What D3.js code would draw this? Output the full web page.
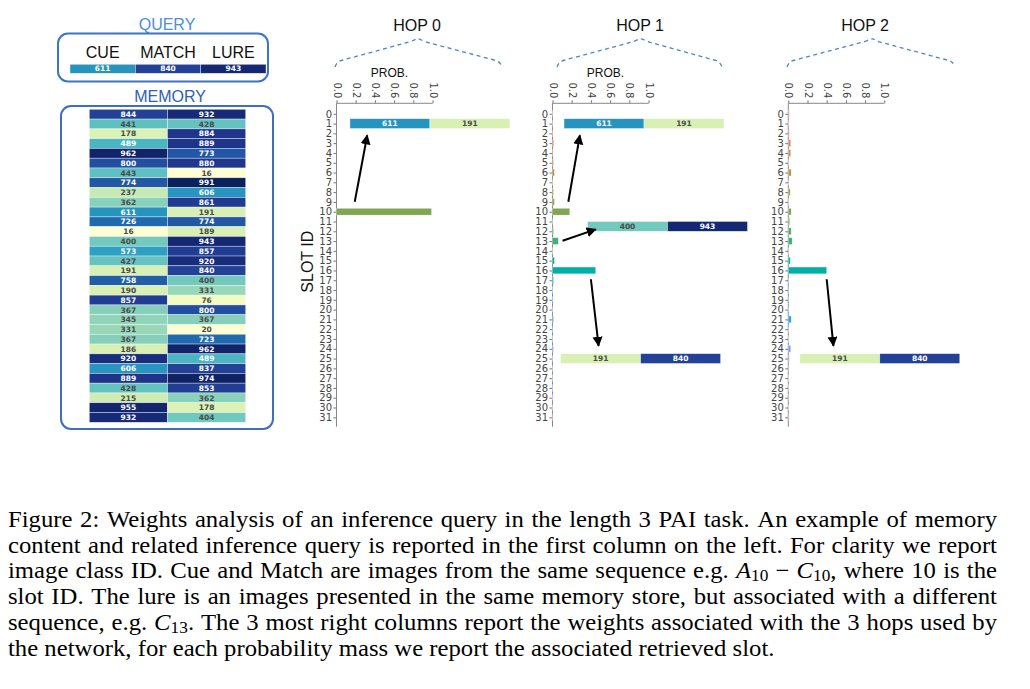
<!DOCTYPE html>
<html><head><meta charset="utf-8">
<script src="https://cdn.jsdelivr.net/npm/d3@7"></script>
<style>body{margin:0;background:#fff}svg{display:block}</style>
</head><body>
<svg id="c" width="1030" height="689"></svg>
<script>
// ---------- data ----------
const slots = d3.range(32);
const memCue   = [844,441,178,489,962,800,443,774,237,362,611,726,16,400,573,427,191,758,190,857,367,345,331,367,186,920,606,889,428,215,955,932];
const memMatch = [932,428,884,889,773,880,16,991,606,861,191,774,189,943,857,920,840,400,331,76,800,367,20,723,962,489,837,974,853,362,178,404];
const queryLabels = ["CUE","MATCH","LURE"];
const queryValues = [611,840,943];
const hopNames = ["HOP 0","HOP 1","HOP 2"];
const hop0 = [0,0,0,0,0,0,0,0,0,0,0.99,0,0,0,0,0,0,0,0,0,0,0,0,0,0,0,0,0,0,0,0,0];
const hop1 = [0.003,0.004,0.005,0.012,0.006,0.01,0.02,0.003,0.01,0.02,0.18,0.003,0.01,0.06,0.003,0.02,0.45,0.01,0.003,0.003,0.003,0.01,0.005,0.003,0.01,0.003,0.003,0.003,0.003,0.003,0.003,0.006];
const hop2 = [0.01,0.005,0.01,0.025,0.025,0.005,0.03,0.005,0.02,0.005,0.03,0.015,0.03,0.04,0.005,0.02,0.40,0.005,0.005,0.006,0.005,0.03,0.005,0.005,0.025,0.01,0.008,0.006,0.005,0.008,0.005,0.008];
const probTicks = [0,0.2,0.4,0.6,0.8,1.0];
// retrieved memory rows shown next to the weights (slot position, start in prob units, values)
const retrievedHop  = [0,1,1,1,2];
const retrievedSlot = [1,1,11.5,25,25];
const retrievedStart= [0.14,0.12,0.365,0.085,0.12];
const retrievedVals = [[611,191],[611,191],[400,943],[191,840],[191,840]];
// arrows in (prob, slot) coordinates
const arrowHop  = [0,1,1,1,2];
const arrowFrom = [[0.19,8.98],[0.165,8.98],[0.105,12.96],[0.40,16.9],[0.40,16.9]];
const arrowTo   = [[0.32,2.2],[0.285,2.2],[0.45,11.8],[0.48,23.7],[0.47,23.7]];
const captionLines = [
 "Figure 2: Weights analysis of an inference query in the length 3 PAI task. An example of memory",
 "content and related inference query is reported in the first column on the left. For clarity we report",
 "image class ID. Cue and Match are images from the same sequence e.g. A_10 − C_10, where 10 is the",
 "slot ID. The lure is an images presented in the same memory store, but associated with a different",
 "sequence, e.g. C_13. The 3 most right columns report the weights associated with the 3 hops used by",
 "the network, for each probability mass we report the associated retrieved slot."
];

// ---------- layout ----------
const svg = d3.select("#c");
const SANS = "'Liberation Sans', Arial, sans-serif";
const DV = "'DejaVu Sans', sans-serif";
const valColor = v => d3.interpolateYlGnBu(v/1000);
const valText = v => v > 460 ? "#ffffff" : "#4a4a4a";
const slotColor = i => d3.hcl(10 + i*11.25, 46, 64).formatHex();

// ---------- query box ----------
svg.append("text").attr("x",167).attr("y",30).attr("text-anchor","middle")
  .attr("font-family",SANS).attr("font-size",16).attr("fill","#4b8fd6").text("QUERY");
svg.append("rect").attr("x",58).attr("y",33.5).attr("width",210).attr("height",48).attr("rx",10)
  .attr("fill","none").attr("stroke","#3d74c6").attr("stroke-width",2);
const qx = d3.scaleBand().domain(queryLabels).range([70,266]);
svg.selectAll("text.ql").data(queryLabels).join("text").attr("class","ql")
  .attr("x",d=>qx(d)+qx.bandwidth()/2).attr("y",58.3).attr("text-anchor","middle")
  .attr("font-family",SANS).attr("font-size",16).attr("fill","#111").text(d=>d);
svg.selectAll("rect.qc").data(queryValues).join("rect").attr("class","qc")
  .attr("x",(d,i)=>qx(queryLabels[i])).attr("y",64.3).attr("width",qx.bandwidth()).attr("height",9)
  .attr("fill",valColor).attr("stroke","#ffffff").attr("stroke-opacity",0.6).attr("stroke-width",0.6);
svg.selectAll("text.qv").data(queryValues).join("text").attr("class","qv")
  .attr("x",(d,i)=>qx(queryLabels[i])+qx.bandwidth()/2).attr("y",68.8).attr("dy","0.35em")
  .attr("text-anchor","middle").attr("font-family",DV).attr("font-weight","bold").attr("font-size",7.5)
  .attr("fill",valText).text(d=>d);

// ---------- memory box ----------
svg.append("text").attr("x",170).attr("y",101.7).attr("text-anchor","middle")
  .attr("font-family",SANS).attr("font-size",16).attr("fill","#2f60b4").text("MEMORY");
svg.append("rect").attr("x",61).attr("y",106).attr("width",212).attr("height",323).attr("rx",10)
  .attr("fill","none").attr("stroke","#3d6fc0").attr("stroke-width",2);
const my = d3.scaleBand().domain(slots).range([109.3,422.3]);
const mx = d3.scaleBand().domain([0,1]).range([89.3,245.7]);
const memCols = [memCue, memMatch];
memCols.forEach((col,ci)=>{
  svg.selectAll("rect.m"+ci).data(col).join("rect").attr("class","m"+ci)
    .attr("x",mx(ci)).attr("y",(d,i)=>my(i)).attr("width",mx.bandwidth()).attr("height",my.bandwidth())
    .attr("fill",valColor).attr("stroke","#ffffff").attr("stroke-opacity",0.6).attr("stroke-width",0.6);
  svg.selectAll("text.m"+ci).data(col).join("text").attr("class","m"+ci)
    .attr("x",mx(ci)+mx.bandwidth()/2).attr("y",(d,i)=>my(i)+my.bandwidth()/2).attr("dy","0.36em")
    .attr("text-anchor","middle").attr("font-family",DV).attr("font-weight","bold").attr("font-size",7.5)
    .attr("fill",valText).text(d=>d);
});

// ---------- hops ----------
const defs = svg.append("defs");
defs.append("marker").attr("id","ah").attr("markerUnits","userSpaceOnUse")
  .attr("markerWidth",12).attr("markerHeight",12).attr("refX",9).attr("refY",5)
  .attr("orient","auto").append("path").attr("d","M0,0 L10,5 L0,10 Z").attr("fill","#000");

const y = d3.scaleLinear().domain([0,31]).range([113.8,417.3]);
const axisTopY = 103.3, axisBottomY = 426.7;
const hopX0 = [336.5,552.5,788.3];
const hopTitleX = [417,640,865];
const braceX = [[335,417,502],[557,640,722],[787,871,955]];
const hopData = [hop0,hop1,hop2];
const segW = 0.833;

const hopScales = hopX0.map(x0 => d3.scaleLinear().domain([0,1]).range([x0,x0+96]));

hopNames.forEach((name,h)=>{
  const x = hopScales[h];
  const g = svg.append("g");
  g.append("text").attr("x",hopTitleX[h]).attr("y",30.7).attr("text-anchor","middle")
    .attr("font-family",SANS).attr("font-size",16).attr("fill","#111").text(name);
  const [L,P,R] = braceX[h];
  g.append("path").attr("d",`M${L},67 Q${L+2},61 ${L+8},60 L${P-6},41.5 Q${P},38.5 ${P+1},39 Q${P+2},38.5 ${P+7},41.5 L${R-8},60 Q${R-2},61 ${R},67`)
    .attr("fill","none").attr("stroke","#4a86c8").attr("stroke-width",1.3).attr("stroke-dasharray","4 3.5");
  if (h < 2) g.append("text").attr("x",x(0)+53).attr("y",76.7).attr("text-anchor","middle")
    .attr("font-family",SANS).attr("font-size",12).attr("fill","#111").text("PROB.");
  const ax = g.append("g").attr("transform",`translate(0,${axisTopY})`)
    .call(d3.axisTop(x).tickValues(probTicks).tickSize(3).tickSizeOuter(0).tickFormat(d3.format(".1f")));
  ax.select(".domain").remove();
  ax.selectAll("text").attr("x",null).attr("y",null).attr("dy","0.35em").attr("text-anchor","end")
    .attr("transform","translate(0,-5) rotate(90)").attr("font-family",DV).attr("font-size",10).attr("fill","#444");
  const ay = g.append("g").attr("transform",`translate(${x(0)},0)`)
    .call(d3.axisLeft(y).tickValues(slots).tickSize(3).tickFormat(d3.format("d")));
  ay.select(".domain").remove();
  ay.selectAll("text").attr("font-family",DV).attr("font-size",10).attr("fill","#444").attr("x",-4.5);
  g.selectAll(".tick line").attr("stroke","#777");
  g.append("line").attr("x1",x(0)).attr("x2",x(1)).attr("y1",axisTopY).attr("y2",axisTopY).attr("stroke","#888");
  g.append("line").attr("x1",x(0)).attr("x2",x(0)).attr("y1",axisTopY).attr("y2",axisBottomY).attr("stroke","#888");
  g.selectAll("rect.p").data(hopData[h]).join("rect").attr("class","p")
    .attr("x",x(0)).attr("y",(d,i)=>y(i)-3.4).attr("width",d=>x(d)-x(0)).attr("height",6.8)
    .attr("fill",(d,i)=>slotColor(i)).attr("stroke","#ffffff").attr("stroke-opacity",0.6).attr("stroke-width",0.5);
  if (h===0) g.append("text").attr("transform",`translate(307.7,261.7) rotate(-90)`).attr("text-anchor","middle")
    .attr("dy","0.35em").attr("font-family",SANS).attr("font-size",16).attr("fill","#111").text("SLOT ID");
});

// retrieved rows
retrievedHop.forEach((h,k)=>{
  const x = hopScales[h];
  const vals = retrievedVals[k];
  const g = svg.append("g");
  g.selectAll("rect").data(vals).join("rect")
    .attr("x",(d,i)=>x(retrievedStart[k]+i*segW)).attr("y",y(retrievedSlot[k])-4.9)
    .attr("width",x(segW)-x(0)).attr("height",9.8).attr("fill",valColor)
    .attr("stroke","#ffffff").attr("stroke-opacity",0.6).attr("stroke-width",0.6);
  g.selectAll("text").data(vals).join("text")
    .attr("x",(d,i)=>x(retrievedStart[k]+(i+0.5)*segW)).attr("y",y(retrievedSlot[k])).attr("dy","0.36em")
    .attr("text-anchor","middle").attr("font-family",DV).attr("font-weight","bold").attr("font-size",7.5)
    .attr("fill",valText).text(d=>d);
});

// arrows
arrowHop.forEach((h,k)=>{
  const x = hopScales[h];
  svg.append("line").attr("x1",x(arrowFrom[k][0])).attr("y1",y(arrowFrom[k][1]))
    .attr("x2",x(arrowTo[k][0])).attr("y2",y(arrowTo[k][1]))
    .attr("stroke","#000").attr("stroke-width",2).attr("marker-end","url(#ah)");
});

// ---------- caption ----------
const capLeft = 8, capRight = 997, capTop = 526.7, capStep = 25.9, capSize = 23, capSX = 1.075;
const cap = svg.append("g").attr("transform",`translate(${capLeft},0) scale(${capSX},1)`)
  .attr("font-family","'Liberation Serif', 'Times New Roman', serif")
  .attr("font-size",capSize).attr("fill","#000");
const capW = (capRight-capLeft)/capSX;
captionLines.forEach((line,li)=>{
  const words = line.split(" ");
  const nodes = words.map(w=>{
    const t = cap.append("text").attr("y",capTop+li*capStep);
    const m = w.match(/^([A-Z])_(\d+)(.*)$/);
    if (m) {
      t.append("tspan").attr("font-style","italic").text(m[1]);
      t.append("tspan").attr("font-size",capSize*0.7).attr("dy",3).text(m[2]);
      if (m[3]) t.append("tspan").attr("dy",-3).text(m[3]);
    } else t.text(w);
    return t;
  });
  const widths = nodes.map(n=>n.node().getComputedTextLength());
  const total = d3.sum(widths);
  const justify = li < captionLines.length-1;
  const gap = justify ? (capW-total)/(nodes.length-1) : capSize*0.25;
  let cx = 0;
  nodes.forEach((n,i)=>{ n.attr("x",cx); cx += widths[i]+gap; });
});
</script>
</body></html>
